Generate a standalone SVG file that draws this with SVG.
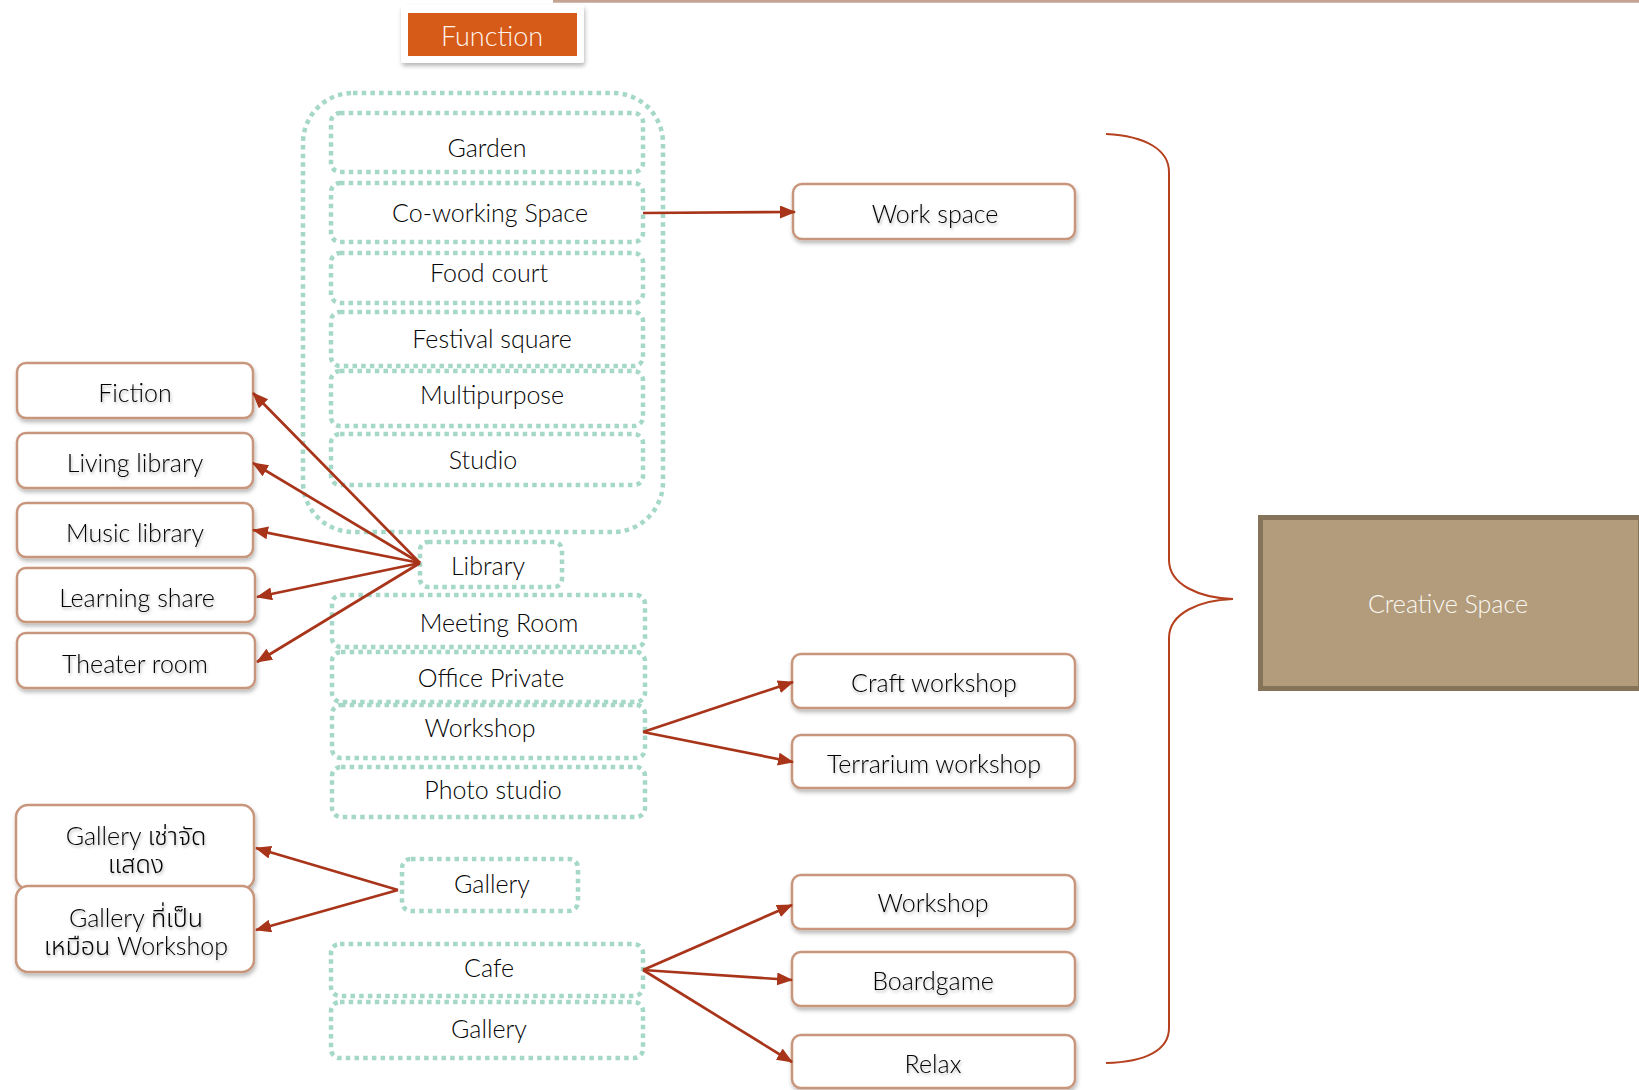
<svg xmlns="http://www.w3.org/2000/svg" width="1639" height="1090" viewBox="0 0 1639 1090">
  <defs>
    <marker id="arrow" markerUnits="userSpaceOnUse" markerWidth="17" markerHeight="14" refX="15" refY="6.5" orient="auto">
      <path d="M0,0 L16,6.5 L0,13 z" fill="#a8341a"/>
    </marker>
    <filter id="boxShadow" x="-10%" y="-20%" width="120%" height="150%">
      <feDropShadow dx="1" dy="3" stdDeviation="2.2" flood-color="#000" flood-opacity="0.28"/>
    </filter>
    <filter id="textShadow" x="-10%" y="-30%" width="120%" height="170%">
      <feDropShadow dx="1" dy="2" stdDeviation="1.6" flood-color="#000" flood-opacity="0.3"/>
    </filter>
  </defs>
  <style>
    text { font-family: "Lato", "Liberation Sans", "Noto Sans Thai", "Noto Sans", sans-serif; font-weight: 300; text-anchor: middle; }
    .lbl { font-size: 25px; fill: #050505; }
    .shl { font-size: 25px; fill: #050505; filter: url(#textShadow); }
    .dot { fill: #ffffff; stroke: #a5d8c6; stroke-width: 4.5; stroke-dasharray: 4.5 4.2; }
    .card { fill: #ffffff; stroke: #c8967d; stroke-width: 2.5; filter: url(#boxShadow); }
    .link { fill: none; stroke: #a8341a; stroke-width: 2.7; marker-end: url(#arrow); }
  </style>

  <rect width="1639" height="1090" fill="#ffffff"/>

  <!-- thin rule along the top edge -->
  <line x1="553" y1="1.2" x2="1639" y2="1.2" stroke="#c4a395" stroke-width="3"/>

  <!-- title -->
  <g id="function">
    <rect x="401" y="5" width="183" height="58" rx="3" fill="#ffffff" filter="url(#boxShadow)"/>
    <rect x="408" y="13" width="169" height="43" fill="#d65a18"/>
    <text x="492" y="46" style="font-size:27px;fill:#fff4ec">Function</text>
  </g>

  <!-- outer grouping of shared functions -->
  <g id="function-group">
    <rect x="303" y="93" width="360" height="439" rx="50" fill="none" stroke="#a5d8c6" stroke-width="4.5" stroke-dasharray="4.5 4.2"/>
  </g>

  <!-- function list -->
  <g id="garden"><rect class="dot" x="331" y="113" width="312" height="59" rx="9"/><text class="lbl" x="487" y="157">Garden</text></g>
  <g id="coworking"><rect class="dot" x="331" y="183" width="312" height="59" rx="9"/><text class="lbl" x="490" y="222">Co-working Space</text></g>
  <g id="foodcourt"><rect class="dot" x="331" y="253" width="312" height="50" rx="9"/><text class="lbl" x="489" y="282">Food court</text></g>
  <g id="festival"><rect class="dot" x="331" y="312" width="312" height="54" rx="9"/><text class="lbl" x="492" y="348">Festival square</text></g>
  <g id="multipurpose"><rect class="dot" x="331" y="371" width="312" height="55" rx="9"/><text class="lbl" x="492" y="404">Multipurpose</text></g>
  <g id="studio"><rect class="dot" x="331" y="434" width="312" height="51" rx="9"/><text class="lbl" x="483" y="469">Studio</text></g>
  <g id="library"><rect class="dot" x="420" y="542" width="142" height="45" rx="8"/><text class="lbl" x="488" y="575">Library</text></g>
  <g id="meeting"><rect class="dot" x="332" y="595" width="313" height="52" rx="9"/><text class="lbl" x="499" y="632">Meeting Room</text></g>
  <g id="office"><rect class="dot" x="332" y="652" width="313" height="50" rx="9"/><text class="lbl" x="491" y="687">Office Private</text></g>
  <g id="workshop"><rect class="dot" x="332" y="705" width="313" height="53" rx="9"/><text class="lbl" x="480" y="737">Workshop</text></g>
  <g id="photo"><rect class="dot" x="332" y="767" width="313" height="50" rx="9"/><text class="lbl" x="493" y="799">Photo studio</text></g>
  <g id="gallery-a"><rect class="dot" x="402" y="859" width="176" height="52" rx="9"/><text class="lbl" x="492" y="893">Gallery</text></g>
  <g id="cafe"><rect class="dot" x="331" y="944" width="312" height="52" rx="9"/><text class="lbl" x="489" y="977">Cafe</text></g>
  <g id="gallery-b"><rect class="dot" x="331" y="1002" width="312" height="56" rx="9"/><text class="lbl" x="489" y="1038">Gallery</text></g>

  <!-- library sub-functions -->
  <g id="fiction"><rect class="card" x="17" y="363" width="236" height="55" rx="9"/><text class="shl" x="135" y="402">Fiction</text></g>
  <g id="living"><rect class="card" x="17" y="433" width="236" height="55" rx="9"/><text class="shl" x="135" y="472">Living library</text></g>
  <g id="music"><rect class="card" x="17" y="503" width="236" height="54" rx="9"/><text class="shl" x="135" y="542">Music library</text></g>
  <g id="learning"><rect class="card" x="17" y="568" width="238" height="54" rx="9"/><text class="shl" x="137" y="607">Learning share</text></g>
  <g id="theater"><rect class="card" x="17" y="633" width="238" height="55" rx="9"/><text class="shl" x="135" y="673">Theater room</text></g>

  <!-- gallery sub-functions -->
  <g id="gallery-rent"><rect class="card" x="16" y="805" width="238" height="84" rx="12"/><text class="shl" x="136" y="845">Gallery เช่าจัด</text><text class="shl" x="136" y="873">แสดง</text></g>
  <g id="gallery-workshop"><rect class="card" x="16" y="886" width="238" height="86" rx="12"/><text class="shl" x="136" y="927">Gallery ที่เป็น</text><text class="shl" x="136" y="955">เหมือน Workshop</text></g>

  <!-- right-hand activities -->
  <g id="workspace"><rect class="card" x="793" y="184" width="282" height="55" rx="9"/><text class="shl" x="935" y="223">Work space</text></g>
  <g id="craft"><rect class="card" x="792" y="654" width="283" height="54" rx="9"/><text class="shl" x="934" y="692">Craft workshop</text></g>
  <g id="terrarium"><rect class="card" x="792" y="735" width="283" height="53" rx="9"/><text class="shl" x="934" y="773">Terrarium workshop</text></g>
  <g id="workshop-r"><rect class="card" x="792" y="875" width="283" height="54" rx="9"/><text class="shl" x="933" y="912">Workshop</text></g>
  <g id="boardgame"><rect class="card" x="792" y="952" width="283" height="54" rx="9"/><text class="shl" x="933" y="990">Boardgame</text></g>
  <g id="relax"><rect class="card" x="792" y="1035" width="283" height="53" rx="9"/><text class="shl" x="933" y="1073">Relax</text></g>

  <!-- summary -->
  <g id="creative-space">
    <rect x="1260.5" y="517.5" width="380" height="171" fill="#b29c7c" stroke="#85735a" stroke-width="5"/>
    <text x="1448" y="613" style="font-size:25px;fill:#fbf8f2">Creative Space</text>
  </g>

  <g id="connectors">
    <line class="link" x1="643" y1="213" x2="795" y2="212"/>
    <line class="link" x1="420" y1="563" x2="253" y2="393"/>
    <line class="link" x1="420" y1="563" x2="253" y2="463"/>
    <line class="link" x1="420" y1="563" x2="253" y2="530"/>
    <line class="link" x1="420" y1="563" x2="257" y2="597"/>
    <line class="link" x1="420" y1="563" x2="257" y2="662"/>
    <line class="link" x1="643" y1="732" x2="793" y2="682"/>
    <line class="link" x1="643" y1="732" x2="793" y2="762"/>
    <line class="link" x1="398" y1="890" x2="256" y2="848"/>
    <line class="link" x1="398" y1="890" x2="256" y2="930"/>
    <line class="link" x1="643" y1="970" x2="792" y2="905"/>
    <line class="link" x1="643" y1="970" x2="792" y2="980"/>
    <line class="link" x1="643" y1="970" x2="792" y2="1062"/>
    <!-- brace gathering everything into the summary -->
    <path d="M1106,134 C1146,136 1169,150 1169,172 L1169,560 C1169,585 1200,598 1233,599 C1200,600 1169,613 1169,638 L1169,1028 C1169,1050 1146,1062 1106,1063" fill="none" stroke="#b5411f" stroke-width="2"/>
  </g>
</svg>
